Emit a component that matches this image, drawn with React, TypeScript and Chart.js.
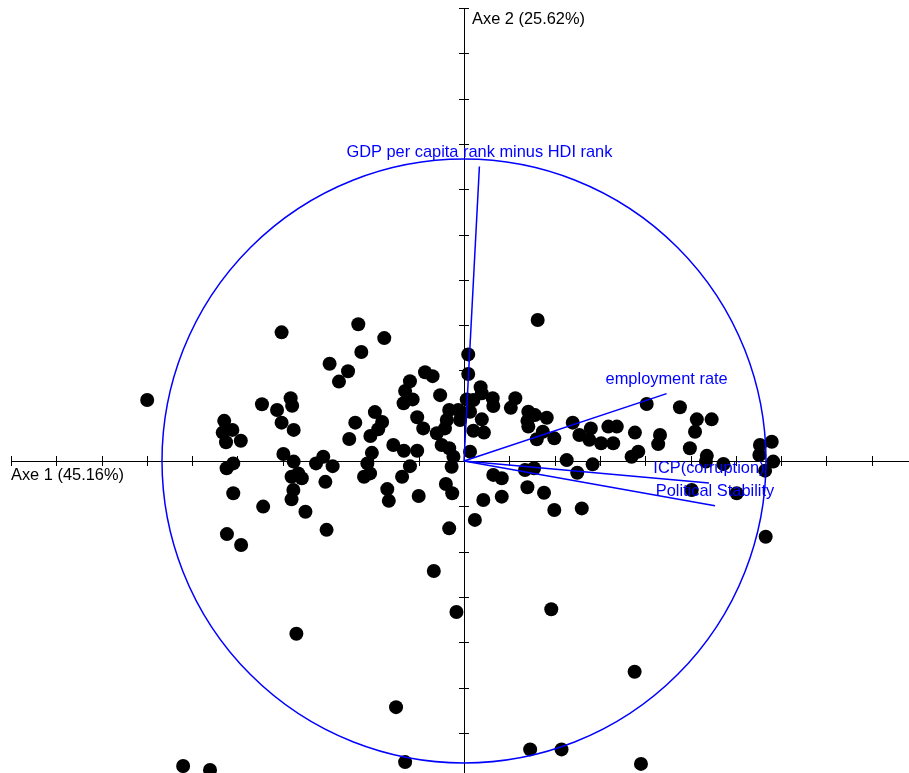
import React, { useEffect, useRef } from "react";
import { Chart, registerables } from "chart.js";

Chart.register(...registerables);

// Individuals' coordinates on the first factorial plane (correlation-circle scale)
const pcX = [
  -0.604, -1.049, -0.669, -0.574, -0.569, -0.619, -0.604, -0.564, -0.794, -0.799,
  -0.767, -0.788, -0.739, -0.598, -0.564, -0.764, -0.786, -0.571, -0.565, -0.571,
  -0.764, -0.665, -0.785, -0.738, -0.549, -0.537,
  -0.350, -0.264, -0.340, -0.445, -0.384, -0.414, -0.129, -0.104, -0.179, -0.195,
  -0.170, -0.200, -0.079, -0.295, -0.360, -0.271, -0.284, -0.310, -0.380, -0.155,
  -0.135, -0.234, -0.199, -0.155, -0.305, -0.320, -0.311, -0.331, -0.179, -0.205,
  -0.254, -0.249, -0.150, -0.466, -0.490, -0.435, -0.459, -0.525, -0.455, -0.049,
  -0.060, -0.039, -0.049, -0.019, -0.057, -0.013, -0.090, -0.063, -0.074, -0.049,
  -0.035, -0.041,
  0.244, 0.014, 0.014, 0.055, 0.059, 0.009, 0.031, 0.095, 0.097, 0.170,
  0.155, 0.020, 0.059, 0.031, 0.066, 0.213, 0.235, 0.210, 0.213, 0.274,
  0.261, 0.241, 0.299, 0.360, 0.382, 0.420, 0.415, 0.454, 0.478, 0.494,
  0.506, 0.020, 0.097, 0.125, 0.202, 0.232, 0.210, 0.265, 0.125, 0.064,
  0.036, 0.299, 0.390, 0.340, 0.375, 0.426,
  0.605, 0.715, 0.771, 0.820, 0.765, 0.566, 0.649, 0.643, 0.577, 0.555,
  0.748, 0.804, 0.801, 0.859, 0.980, 1.019, 0.978, 1.024, 0.997, 0.754,
  0.903, 0.999,
  -0.100, -0.025, 0.289, -0.555, 0.565, -0.225, 0.219, 0.323, -0.195, 0.586,
  -0.930, -0.841,
];

const pcY = [
  0.426, 0.202, 0.188, 0.208, 0.183, 0.169, 0.127, 0.103, 0.133, 0.094,
  0.103, 0.062, 0.067, 0.023, -0.002, -0.008, -0.024, -0.052, -0.096, -0.127,
  -0.107, -0.151, -0.242, -0.278, -0.041, -0.057,
  0.453, 0.407, 0.361, 0.322, 0.297, 0.263, 0.294, 0.281, 0.264, 0.232,
  0.204, 0.191, 0.218, 0.162, 0.127, 0.129, 0.105, 0.083, 0.073, 0.145,
  0.108, 0.053, 0.034, 0.034, 0.027, -0.008, -0.041, -0.052, -0.017, -0.052,
  -0.093, -0.132, -0.116, 0.014, -0.008, -0.017, -0.069, -0.168, -0.228, -0.223,
  -0.076, -0.107, 0.169, 0.169, 0.136, 0.136, 0.092, 0.108, 0.053, 0.042,
  0.014, -0.019,
  0.467, 0.353, 0.288, 0.244, 0.224, 0.204, 0.202, 0.208, 0.182, 0.208,
  0.176, 0.163, 0.138, 0.100, 0.094, 0.163, 0.152, 0.133, 0.114, 0.143,
  0.097, 0.072, 0.075, 0.127, 0.086, 0.108, 0.070, 0.059, 0.114, 0.059,
  0.114, 0.031, -0.046, -0.057, -0.030, -0.024, -0.087, -0.105, -0.118, -0.129,
  -0.195, -0.162, -0.157, 0.003, -0.039, -0.011,
  0.189, 0.178, 0.138, 0.138, 0.097, 0.094, 0.086, 0.056, 0.031, 0.014,
  0.042, 0.017, -0.002, -0.010, 0.053, 0.064, 0.020, -0.002, -0.032, -0.096,
  -0.107, -0.251,
  -0.364, -0.500, -0.491, -0.572, -0.698, -0.815, -0.955, -0.955, -0.997, -1.003,
  -1.010, -1.023,
];

// Variables (correlations with the axes)
const varNames = [
  "GDP per capita rank minus HDI rank",
  "employment rate",
  "ICP(corruption)",
  "Political Stability",
];
const varX = [0.051, 0.671, 0.811, 0.831];
const varY = [0.975, 0.223, -0.073, -0.148];

const axis1Label = "Axe 1 (45.16%)";
const axis2Label = "Axe 2 (25.62%)";
const tickStep = 0.15;
const tickCount = 10;
const circleRadius = 1;

const X_MIN = -1.5364;
const X_MAX = 1.4735;
const Y_MIN = -1.0331;
const Y_MAX = 1.5265;

const FONT = "16.4px 'Liberation Sans', Arial, sans-serif";

const biplotPlugin = {
  id: "biplot",
  beforeDatasetsDraw(chart: any) {
    const { ctx } = chart;
    const xs = chart.scales.x;
    const ys = chart.scales.y;
    const ox = xs.getPixelForValue(0);
    const oy = ys.getPixelForValue(0);
    const lim = tickStep * tickCount;
    ctx.save();
    ctx.strokeStyle = "#000";
    ctx.lineWidth = 1;
    ctx.beginPath();
    ctx.moveTo(xs.getPixelForValue(-lim), Math.round(oy) + 0.5);
    ctx.lineTo(xs.getPixelForValue(lim), Math.round(oy) + 0.5);
    ctx.moveTo(Math.round(ox) + 0.5, ys.getPixelForValue(lim));
    ctx.lineTo(Math.round(ox) + 0.5, ys.getPixelForValue(-lim));
    for (let k = -tickCount; k <= tickCount; k++) {
      const px = Math.round(xs.getPixelForValue(k * tickStep)) + 0.5;
      ctx.moveTo(px, oy - 5);
      ctx.lineTo(px, oy + 5);
      const py = Math.round(ys.getPixelForValue(k * tickStep)) + 0.5;
      ctx.moveTo(ox - 5, py);
      ctx.lineTo(ox + 5, py);
    }
    ctx.stroke();
    ctx.restore();
  },
  afterDatasetsDraw(chart: any) {
    const { ctx } = chart;
    const xs = chart.scales.x;
    const ys = chart.scales.y;
    const ox = xs.getPixelForValue(0);
    const oy = ys.getPixelForValue(0);
    const lim = tickStep * tickCount;
    ctx.save();
    // correlation circle
    const r = xs.getPixelForValue(circleRadius) - ox;
    ctx.strokeStyle = "#0000ff";
    ctx.lineWidth = 1.5;
    ctx.beginPath();
    ctx.arc(ox, oy, r, 0, Math.PI * 2);
    ctx.stroke();
    // variable vectors
    ctx.font = FONT;
    ctx.fillStyle = "#0000ff";
    ctx.textAlign = "center";
    ctx.textBaseline = "alphabetic";
    for (let i = 0; i < varNames.length; i++) {
      const ex = xs.getPixelForValue(varX[i]);
      const ey = ys.getPixelForValue(varY[i]);
      ctx.beginPath();
      ctx.moveTo(ox, oy);
      ctx.lineTo(ex, ey);
      ctx.stroke();
      ctx.fillText(varNames[i], ex, ey - 10);
    }
    // axis titles
    ctx.fillStyle = "#000";
    ctx.textAlign = "left";
    ctx.fillText(axis1Label, xs.getPixelForValue(-lim), oy + 18.5);
    ctx.fillText(axis2Label, ox + 8, ys.getPixelForValue(lim) + 16);
    ctx.restore();
  },
};

export default function App() {
  const ref = useRef<HTMLCanvasElement | null>(null);
  useEffect(() => {
    if (!ref.current) return;
    const points = pcX.map((x, i) => ({ x, y: pcY[i] }));
    const chart = new Chart(ref.current, {
      type: "scatter",
      data: {
        datasets: [
          {
            data: points,
            backgroundColor: "#000",
            borderWidth: 0,
            pointRadius: 7,
            pointHoverRadius: 7,
            clip: false,
          },
        ],
      },
      options: {
        animation: false,
        responsive: false,
        devicePixelRatio: 1,
        layout: { padding: 0, autoPadding: false },
        plugins: { legend: { display: false }, tooltip: { enabled: false } },
        scales: {
          x: { type: "linear", min: X_MIN, max: X_MAX, display: false },
          y: { type: "linear", min: Y_MIN, max: Y_MAX, display: false },
        },
      },
      plugins: [biplotPlugin],
    });
    return () => chart.destroy();
  }, []);
  return (
    <div style={{ position: "fixed", left: 0, top: 0, width: 909, height: 773, background: "#fff" }}>
      <canvas ref={ref} width={909} height={773} style={{ display: "block" }} />
    </div>
  );
}
